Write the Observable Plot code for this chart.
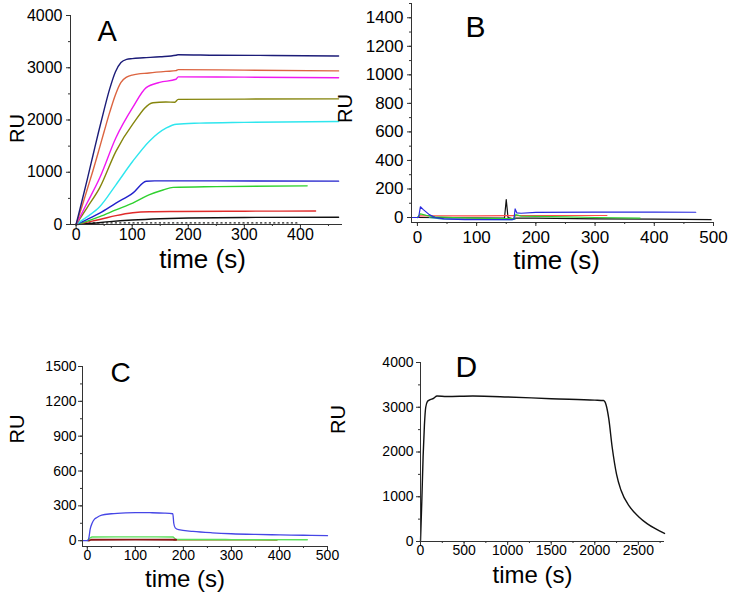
<!DOCTYPE html>
<html><head><meta charset="utf-8">
<script src="https://cdn.jsdelivr.net/npm/d3@7"></script>
<script src="https://cdn.jsdelivr.net/npm/@observablehq/plot@0.6"></script>
<style>
html,body{margin:0;padding:0;background:#fff;}
#root{position:relative;width:729px;height:598px;overflow:hidden;font-family:"Liberation Sans",Arial,sans-serif;}
.panel{position:absolute;}
</style></head><body><div id="root"></div>
<script>
// ---------- Panel A data ----------
const A_navy_t = [0,10,20,30,40,50,60,70,80,90,100,120,150,178,182,250,350,468];
const A_navy_v = [0,430,870,1320,1770,2200,2600,2920,3100,3160,3175,3190,3210,3240,3250,3240,3235,3225];
const A_orange_t = [0,10,20,30,40,50,60,70,80,90,100,130,160,178,182,300,468];
const A_orange_v = [0,330,680,1030,1400,1780,2150,2480,2720,2820,2860,2900,2930,2945,2965,2955,2940];
const A_magenta_t = [0,20,42,71,101,125,149,178,182,300,468];
const A_magenta_v = [0,420,890,1660,2240,2620,2720,2780,2825,2820,2810];
const A_olive_t = [0,20,42,71,101,137,160,176,182,300,468];
const A_olive_v = [0,330,700,1400,1920,2330,2345,2340,2395,2400,2405];
const A_cyan_t = [0,20,42,71,101,131,161,179,220,300,468];
const A_cyan_v = [0,150,340,760,1210,1600,1850,1920,1940,1955,1970];
const A_blue_t = [0,20,42,71,101,125,140,250,468];
const A_blue_v = [0,100,218,410,600,827,835,835,830];
const A_green_t = [0,20,42,71,101,131,155,173,250,412];
const A_green_v = [0,65,150,280,410,570,660,710,725,740];
const A_red_t = [0,20,42,71,101,131,180,300,427];
const A_red_v = [0,45,95,170,225,245,250,255,258];
const A_black_t = [0,30,60,100,150,200,300,468];
const A_black_v = [0,25,55,85,110,125,135,140];
const A_dot_t = [15,395];
const A_dot_v = [30,30];
const A_xTicks = [0,100,200,300,400];
const A_yTicks = [0,1000,2000,3000,4000];

// ---------- Panel B data ----------
const B_blue_t = [-8,2,5,10,20,30,45,80,120,160,163,165,168,175,200,300,400,470];
const B_blue_v = [0,0,75,55,20,0,-10,-15,-15,-15,-10,60,32,30,36,38,38,37];
const B_black_t = [-8,0,140,147,150,153,160,165,200,300,400,496];
const B_black_v = [0,0,-5,-5,125,0,-8,-5,-5,-9,-12,-15];
const B_red_t = [0,5,100,200,320];
const B_red_v = [0,12,12,13,14];
const B_green_t = [0,5,15,30,60,100,160,163,166,175,250,300,376];
const B_green_v = [0,25,15,5,0,-5,-8,-5,20,10,5,0,-5];
const B_teal_t = [20,40,100,160,165];
const B_teal_v = [0,-10,-14,-15,-12];
const B_xTicks = [0,100,200,300,400,500];
const B_yTicks = [0,200,400,600,800,1000,1200,1400];

// ---------- Panel C data ----------
const C_blue_t = [-10,0,3,6,10,15,20,30,50,80,100,130,160,178,180,183,190,220,260,300,350,400,450,500];
const C_blue_v = [0,0,20,100,150,185,200,220,232,240,242,241,238,232,150,110,95,80,68,60,54,50,47,43];
const C_green_t = [0,5,10,100,178,185,300,458];
const C_green_v = [0,20,32,33,32,12,10,8];
const C_darkred_t = [3,8,100,185];
const C_darkred_v = [0,8,9,8];
const C_olive_t = [180,300,395];
const C_olive_v = [6,5,4];
const C_xTicks = [0,100,200,300,400,500];
const C_yTicks = [0,300,600,900,1200,1500];

// ---------- Panel D data ----------
const D_t = [0,15,30,45,60,80,100,150,190,300,600,1000,1500,2000,2100,2130,2160,2200,2250,2300,2400,2500,2600,2700,2800];
const D_v = [0,900,1900,2600,3000,3130,3160,3200,3250,3240,3250,3230,3190,3160,3150,3050,2750,2100,1500,1150,780,560,400,280,180];
const D_xTicks = [0,500,1000,1500,2000,2500];
const D_yTicks = [0,1000,2000,3000,4000];

const range = (a, b, s) => d3.range(a, b + s / 2, s);
const rows = (t, v) => t.map((x, i) => ({t: x, v: v[i]}));
const plain = d => String(d);

function panel(cfg) {
  const marks = [];
  for (const s of cfg.series) {
    marks.push(Plot.line(rows(s.t, s.v), {x: "t", y: "v", stroke: s.color, strokeWidth: s.w || cfg.lw, curve: s.curve || "monotone-x", strokeDasharray: s.dash}));
  }
  marks.push(
    Plot.ruleX([cfg.xDomain[0]], {stroke: "#333", strokeWidth: 1}),
    Plot.ruleY([cfg.yDomain[0]], {stroke: "#333", strokeWidth: 1}),
    Plot.axisY(cfg.yMinor, {tickSize: 2, tickFormat: () => "", label: null, stroke: "#333"}),
    Plot.axisX(cfg.xMinor, {tickSize: 2, tickFormat: () => "", label: null, stroke: "#333"}),
    Plot.axisY(cfg.yTicks, {tickSize: 4, tickPadding: cfg.yPad, tickFormat: plain, fontSize: cfg.fs, label: null, stroke: "#333", fill: "#000"}),
    Plot.axisX(cfg.xTicks, {tickSize: 4, tickPadding: cfg.xPad, tickFormat: plain, fontSize: cfg.fs, label: null, stroke: "#333", fill: "#000"}),
    Plot.text([cfg.letter], {text: d => d, frameAnchor: "top-left", textAnchor: "start", lineAnchor: "top", dx: cfg.letterPos[0], dy: cfg.letterPos[1], fontSize: cfg.letterSize, fill: "#000"}),
    Plot.text(["time (s)"], {text: d => d, frameAnchor: "bottom", lineAnchor: "top", dx: cfg.xLab[0], dy: cfg.xLab[1], fontSize: cfg.xLabSize, fill: "#000"}),
    Plot.text(["RU"], {text: d => d, frameAnchor: "left", rotate: -90, dx: cfg.yLab[0], dy: cfg.yLab[1], fontSize: 20, fill: "#000"})
  );
  const [mt, mr, mb, ml] = cfg.margins;
  const chart = Plot.plot({
    width: cfg.width, height: cfg.height,
    marginTop: mt, marginRight: mr, marginBottom: mb, marginLeft: ml,
    x: {domain: cfg.xDomain}, y: {domain: cfg.yDomain},
    style: {fontFamily: '"Liberation Sans", Arial, sans-serif', color: "#000", background: "transparent", overflow: "visible"},
    marks
  });
  const div = document.createElement("div");
  div.className = "panel";
  div.style.left = cfg.left + "px";
  div.style.top = cfg.top + "px";
  div.appendChild(chart);
  document.getElementById("root").appendChild(div);
}

panel({
  left: 0, top: 0, width: 360, height: 280, margins: [15, 18, 56, 70],
  xDomain: [-10, 475], yDomain: [0, 4000],
  xTicks: A_xTicks, xMinor: range(0, 450, 50), yTicks: A_yTicks, yMinor: range(0, 4000, 500),
  fs: 16, yPad: 4, xPad: 0, lw: 1.4,
  letter: "A", letterPos: [27, 5], letterSize: 29,
  xLab: [-4, 25], xLabSize: 26, yLab: [-53, 23],
  series: [
    {t: A_dot_t, v: A_dot_v, color: "#222", dash: "1.2,3.2", w: 1.2, curve: "linear"},
    {t: A_black_t, v: A_black_v, color: "#111"},
    {t: A_red_t, v: A_red_v, color: "#e02a2a"},
    {t: A_green_t, v: A_green_v, color: "#2fd12f"},
    {t: A_blue_t, v: A_blue_v, color: "#2222cc"},
    {t: A_cyan_t, v: A_cyan_v, color: "#2ee6ee"},
    {t: A_olive_t, v: A_olive_v, color: "#85850c"},
    {t: A_magenta_t, v: A_magenta_v, color: "#f018f0"},
    {t: A_orange_t, v: A_orange_v, color: "#dc6440"},
    {t: A_navy_t, v: A_navy_v, color: "#1c1c78"}
  ]
});

panel({
  left: 330, top: 0, width: 399, height: 280, margins: [3, 16, 58, 81],
  xDomain: [-10, 500], yDomain: [-35, 1500],
  xTicks: B_xTicks, xMinor: range(0, 500, 50), yTicks: B_yTicks, yMinor: range(0, 1500, 100),
  fs: 17, yPad: 4, xPad: 4, lw: 1.2,
  letter: "B", letterPos: [54, 12], letterSize: 30,
  xLab: [-6, 28], xLabSize: 26, yLab: [-66, 10],
  series: [
    {t: B_black_t, v: B_black_v, color: "#111", curve: "linear"},
    {t: B_red_t, v: B_red_v, color: "#ff4a4a", curve: "linear"},
    {t: B_green_t, v: B_green_v, color: "#2fd12f", curve: "linear"},
    {t: B_teal_t, v: B_teal_v, color: "#1a9a9a", curve: "linear"},
    {t: B_blue_t, v: B_blue_v, color: "#2a2ae0", curve: "linear"}
  ]
});

panel({
  left: 0, top: 300, width: 360, height: 298, margins: [66, 33, 52, 82],
  xDomain: [-10, 500], yDomain: [-50, 1500],
  xTicks: C_xTicks, xMinor: range(0, 500, 50), yTicks: C_yTicks, yMinor: range(0, 1500, 150),
  fs: 14, yPad: 2, xPad: 0, lw: 1.3,
  letter: "C", letterPos: [28, -4], letterSize: 28,
  xLab: [-20, 23], xLabSize: 24, yLab: [-65, -13],
  series: [
    {t: C_olive_t, v: C_olive_v, color: "#a89448", curve: "linear"},
    {t: C_green_t, v: C_green_v, color: "#5ae05a"},
    {t: C_darkred_t, v: C_darkred_v, color: "#8b1616", w: 1.8, curve: "linear"},
    {t: C_blue_t, v: C_blue_v, color: "#4646e6"}
  ]
});

panel({
  left: 360, top: 300, width: 369, height: 298, margins: [62, 65, 57, 60],
  xDomain: [0, 2800], yDomain: [0, 4000],
  xTicks: D_xTicks, xMinor: range(0, 2750, 250), yTicks: D_yTicks, yMinor: range(0, 4000, 500),
  fs: 14, yPad: 3, xPad: 0, lw: 1.4,
  letter: "D", letterPos: [35, -7], letterSize: 30,
  xLab: [-10, 24], xLabSize: 24, yLab: [-82, -18],
  series: [
    {t: D_t, v: D_v, color: "#111"}
  ]
});
</script></body></html>
